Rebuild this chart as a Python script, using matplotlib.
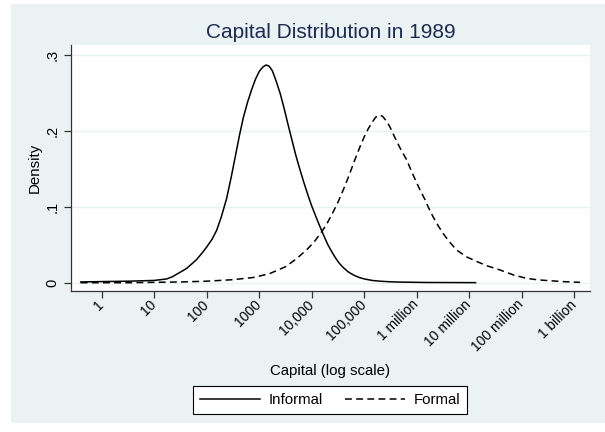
import matplotlib
matplotlib.use("Agg")
from matplotlib import pyplot as plt
from matplotlib.patches import Rectangle

plt.rcParams['font.family'] = ['Liberation Sans', 'DejaVu Sans']

# log10 of capital and estimated kernel density
informal_logcap = [-0.40, 0.0, 0.5, 1.0, 1.24, 1.35, 1.45, 1.55, 1.62, 1.72, 1.80, 1.90, 2.00,
                   2.10, 2.19, 2.28, 2.38, 2.47, 2.55, 2.63, 2.70, 2.78, 2.86, 2.93, 3.00, 3.07,
                   3.13, 3.19, 3.25, 3.32, 3.40, 3.48, 3.55, 3.63, 3.70, 3.78, 3.85, 3.93, 4.00,
                   4.08, 4.15, 4.23, 4.30, 4.38, 4.45, 4.52, 4.60, 4.70, 4.80, 4.90, 5.00, 5.15,
                   5.30, 5.50, 5.70, 6.20, 7.12]
informal_dens = [0.001, 0.0015, 0.002, 0.003, 0.005, 0.008, 0.012, 0.016, 0.019, 0.025, 0.030,
                 0.038, 0.047, 0.057, 0.069, 0.087, 0.111, 0.140, 0.168, 0.196, 0.218, 0.238,
                 0.255, 0.268, 0.278, 0.284, 0.2866, 0.285, 0.279, 0.266, 0.249, 0.228, 0.208,
                 0.186, 0.167, 0.148, 0.132, 0.115, 0.101, 0.087, 0.075, 0.062, 0.051, 0.041,
                 0.033, 0.026, 0.020, 0.014, 0.010, 0.007, 0.005, 0.003, 0.002, 0.0012, 0.0008,
                 0.0003, 0.0001]

formal_logcap = [-0.40, 0.5, 1.0, 1.5, 2.0, 2.5, 2.9, 3.2, 3.5, 3.7, 3.9, 4.05, 4.2, 4.3, 4.4,
                 4.5, 4.6, 4.71, 4.82, 4.92, 5.0, 5.08, 5.15, 5.22, 5.29, 5.35, 5.42, 5.49,
                 5.55, 5.62, 5.70, 5.81, 5.88, 5.95, 6.05, 6.16, 6.23, 6.31, 6.40, 6.50, 6.62,
                 6.76, 6.95, 7.14, 7.35, 7.59, 7.85, 8.09, 8.30, 8.54, 8.80, 9.11]
formal_dens = [0.0, 0.0, 0.0005, 0.001, 0.002, 0.004, 0.007, 0.012, 0.021, 0.031, 0.043, 0.054,
               0.068, 0.079, 0.092, 0.106, 0.122, 0.141, 0.1615, 0.179, 0.192, 0.203, 0.211,
               0.218, 0.2207, 0.219, 0.213, 0.205, 0.196, 0.186, 0.175, 0.1615, 0.150, 0.139,
               0.124, 0.109, 0.098, 0.087, 0.076, 0.065, 0.054, 0.043, 0.034, 0.028, 0.022,
               0.0167, 0.010, 0.0058, 0.0038, 0.0026, 0.0014, 0.0005]

xtick_pos = [0, 1, 2, 3, 4, 5, 6, 7, 8, 9]
xtick_labels = ['1', '10', '100', '1000', '10,000', '100,000', '1 million', '10 million',
                '100 million', '1 billion']
ytick_pos = [0, 0.1, 0.2, 0.3]
ytick_labels = ['0', '.1', '.2', '.3']

bg = '#EAF2F3'
navy = '#1c2b52'
W, H = 605, 432

fig = plt.figure(figsize=(6.05, 4.32), dpi=100, facecolor='white')
fig.add_artist(Rectangle((11 / W, 1 - 423 / H), 1 - 11 / W, (423 - 4) / H,
                         transform=fig.transFigure, facecolor=bg, edgecolor='none', zorder=-10))

ax = fig.add_axes([70.7 / W, 1 - 291.3 / H, (590 - 70.7) / W, (291.3 - 45) / H])
ax.set_facecolor('white')

ax.plot(informal_logcap, informal_dens, color='black', lw=1.1, label='Informal')
ax.plot(formal_logcap, formal_dens, color='black', lw=1.1, linestyle=(0, (4.5, 2.8)), label='Formal')

ax.set_xlim(-0.59, 9.30)
ax.set_ylim(-0.0113, 0.3129)

ax.set_xticks(xtick_pos)
ax.set_xticklabels(xtick_labels, rotation=45, ha='right', va='center', rotation_mode='anchor',
                   fontsize=10)
ax.set_yticks(ytick_pos)
ax.set_yticklabels(ytick_labels, rotation=90, va='center', fontsize=10.5)
ax.tick_params(axis='both', direction='out', length=5, width=0.9, color='#333333',
               labelcolor='black')
ax.tick_params(axis='x', pad=3)
ax.tick_params(axis='y', pad=3)

ax.grid(axis='y', color=bg, lw=1.0)
ax.grid(axis='x', visible=False)
ax.set_axisbelow(True)

for side in ['top', 'right']:
    ax.spines[side].set_visible(False)
for side in ['left', 'bottom']:
    ax.spines[side].set_color('#333333')
    ax.spines[side].set_linewidth(0.9)

fig.text(330.5 / W, 1 - 33 / H, 'Capital Distribution in 1989', ha='center', va='center',
         fontsize=15, color=navy)
fig.text(35 / W, 1 - 168 / H, 'Density', rotation=90, ha='center', va='center', fontsize=10.8)
fig.text(330.5 / W, 1 - 371 / H, 'Capital (log scale)', ha='center', va='center', fontsize=10.8)

leg = fig.legend(loc='center', bbox_to_anchor=(330 / W, 1 - 400 / H), ncol=2, fontsize=10.8,
                 frameon=True, fancybox=False, edgecolor='black', framealpha=1,
                 handlelength=4.0, handletextpad=0.55, columnspacing=1.5,
                 borderpad=0.45)
leg.get_frame().set_linewidth(0.8)

fig.savefig('out.png', dpi=100, facecolor='white')
